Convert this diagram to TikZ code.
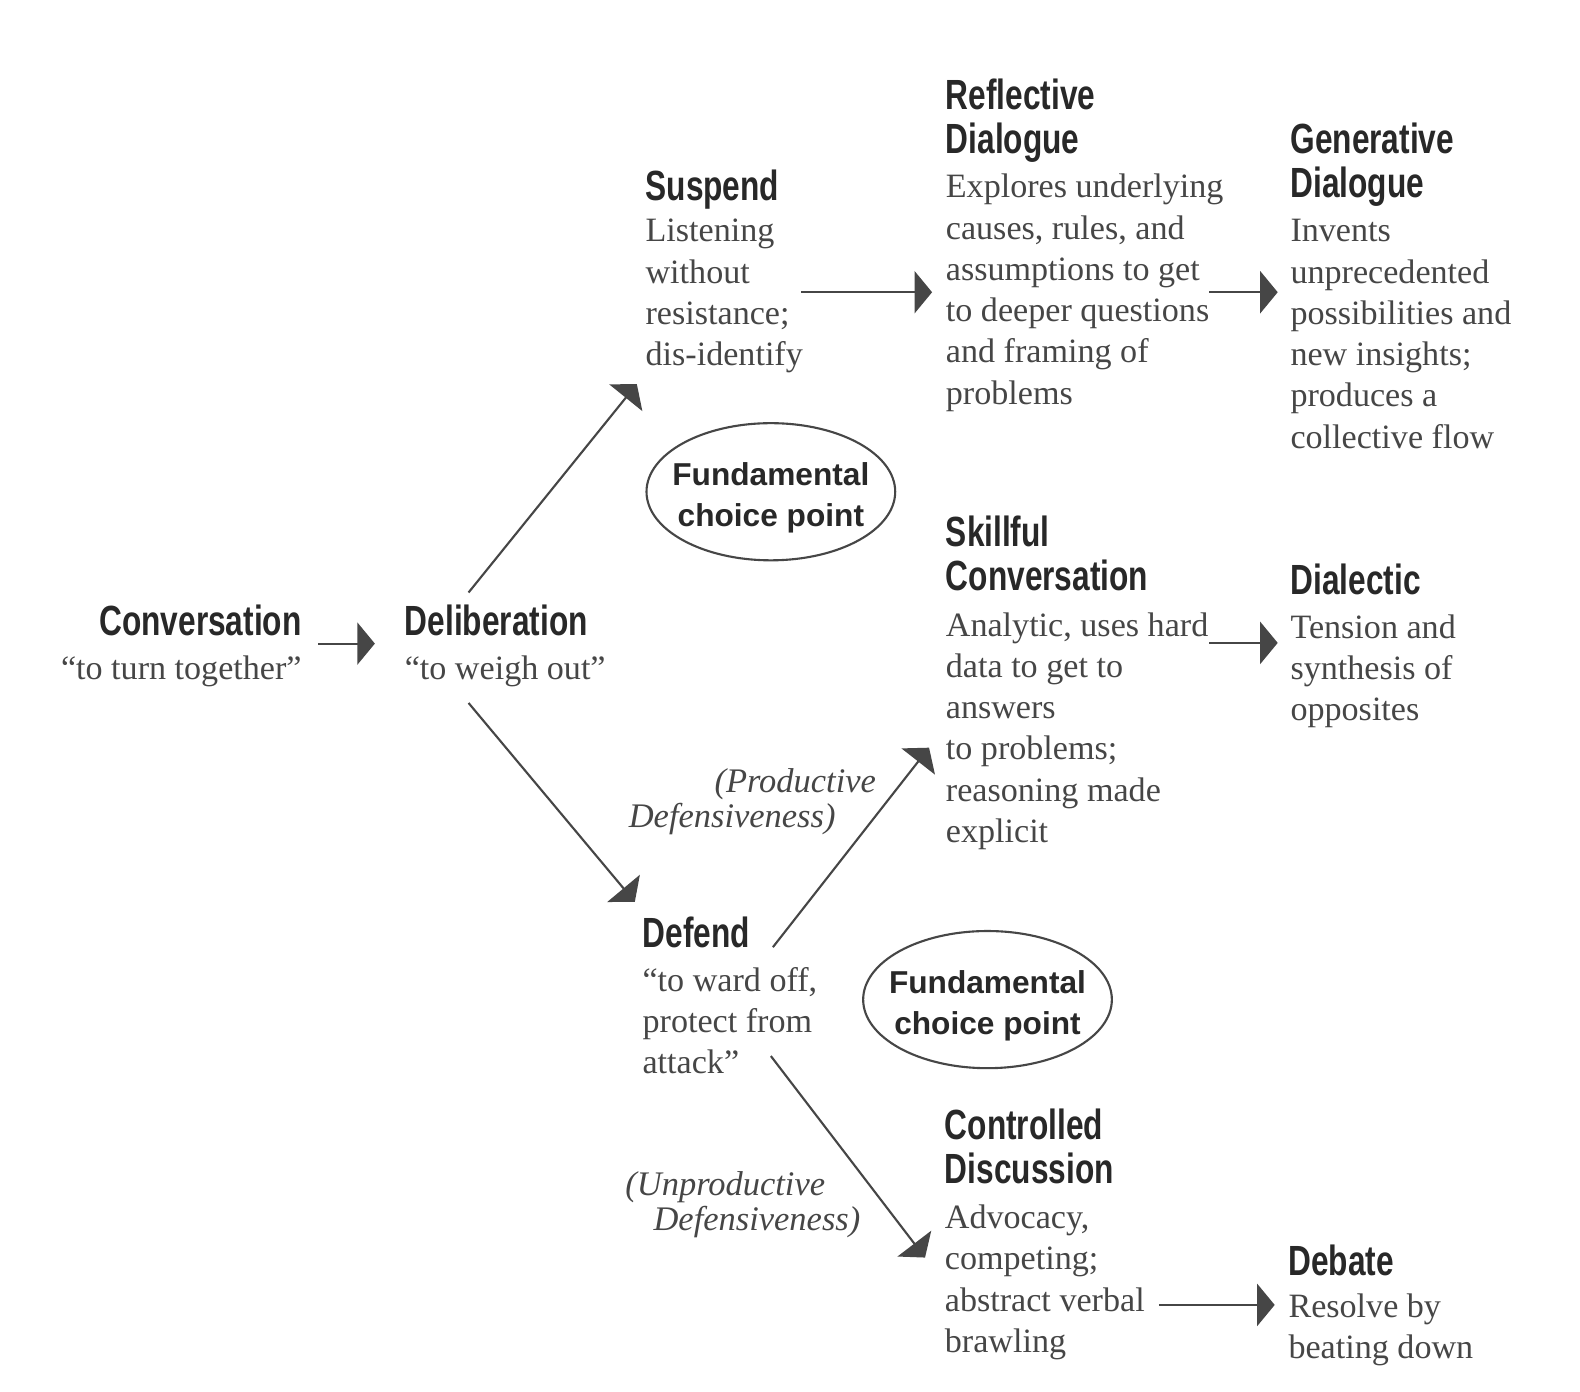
\documentclass[tikz,border=0pt]{standalone}
\usepackage{fontspec}
\usepackage{xcolor}
\usepackage{tikz}
\setmainfont{Liberation Serif}
\newfontfamily\headfont[FakeStretch=0.75]{Liberation Sans}
\newfontfamily\choicefont{Liberation Sans}
\definecolor{inkgray}{RGB}{70, 70, 70}
\definecolor{headgray}{RGB}{40, 40, 40}
\usetikzlibrary{shapes.geometric, arrows.meta, positioning, calc}
\newcommand{\choicetext}{\rule{0pt}{10pt}Fundamental\\choice point}

\begin{document}
\begin{tikzpicture}[
    x=0.0100765cm, y=-0.0100765cm,
    head/.style={anchor=north west, inner sep=0pt, align=left, text=headgray, font={\headfont\bfseries\fontsize{12}{12.47}\selectfont}, execute at begin node={\rule{0pt}{10pt}}},
    body/.style={anchor=north west, inner sep=0pt, align=left, text=inkgray, font={\fontsize{9.7}{11.75}\selectfont}, execute at begin node={\rule{0pt}{8pt}}},
    note/.style={inner sep=0pt, text=inkgray, font={\itshape\fontsize{9.8}{10}\selectfont}, execute at begin node={\rule{0pt}{8pt}}},
    choice/.style={ellipse, draw=inkgray, line width=0.6pt, inner xsep=-3pt, inner ysep=0pt, minimum width=70pt, minimum height=39pt, align=center, text=headgray, font={\choicefont\bfseries\fontsize{9}{11.75}\selectfont}},
    arrow/.style={-{Triangle[length=5pt, width=12pt]}, line width=0.6pt, draw=inkgray}
]
    \path[fill=white, use as bounding box] (0,0) rectangle (1568,1381);

    % Start of the conversation
    \node[head, anchor=north east, align=right] (conv_h) at (300, 595) {Conversation};
    \node[body, anchor=north east, align=right] (conv_b) at (300, 646) {“to turn together”};
    \node[head] (delib_h) at (401, 595) {Deliberation};
    \node[body] (delib_b) at (401, 646) {“to weigh out”};

    % Upper branch
    \node[head] (susp_h) at (640, 163) {Suspend};
    \node[body] (susp_b) at (640, 217) {Listening\\without\\resistance;\\dis-identify};
    \node[head] (refl_h) at (938, 78) {Reflective\\Dialogue};
    \node[body] (refl_b) at (938, 172) {Explores underlying\\causes, rules, and\\assumptions to get\\to deeper questions\\and framing of\\problems};
    \node[head] (gen_h) at (1280, 121) {Generative\\Dialogue};
    \node[body] (gen_b) at (1280, 217) {Invents\\unprecedented\\possibilities and\\new insights;\\produces a\\collective flow};
    \node[choice] (choice1) at (765, 488) {\choicetext};

    % Lower branch
    \node[head] (skill_h) at (938, 511) {Skillful\\Conversation};
    \node[body] (skill_b) at (938, 607) {Analytic, uses hard\\data to get to\\answers\\to problems;\\reasoning made\\explicit};
    \node[head] (dial_h) at (1280, 554) {Dialectic};
    \node[body] (dial_b) at (1280, 609) {Tension and\\synthesis of\\opposites};
    \node[head] (def_h) at (637, 905) {Defend};
    \node[body] (def_b) at (637, 959) {“to ward off,\\protect from\\attack”};
    \node[choice] (choice2) at (980, 992) {\choicetext};
    \node[head] (ctrl_h) at (937, 1100) {Controlled\\Discussion};
    \node[body] (ctrl_b) at (937, 1195) {Advocacy,\\competing;\\abstract verbal\\brawling};
    \node[head] (deb_h) at (1278, 1230) {Debate};
    \node[body] (deb_b) at (1278, 1283) {Resolve by\\beating down};

    \node[note, anchor=north east, align=right] (prod) at (870, 762) {(Productive\\Defensiveness)\hspace*{11.5pt}};
    \node[note, anchor=north west, align=left] (unprod) at (620, 1162) {(Unproductive\\\hspace*{8pt}Defensiveness)};

    % Arrows
    \draw[arrow] ($(conv_h.south east)+(16,7)$) -- ($(delib_h.south west)+(-29,7)$);
    \draw[arrow] ($(delib_h.north west)+(64,-7)$) -- ($(susp_b.south west)+(-8,10)$);
    \draw[arrow] ($(delib_b.south west)+(64,15)$) -- ($(def_h.north west)+(-7,-10)$);
    \draw[arrow] ($(susp_b.north west)+(155,73)$) -- ($(refl_b.north west)+(-13,118)$);
    \draw[arrow] ($(refl_b.north west)+(262,118)$) -- ($(gen_b.north west)+(-12,73)$);
    \draw[arrow] ($(def_h.north west)+(130,35)$) -- ($(skill_b.north west)+(-16,135)$);
    \draw[arrow] ($(skill_b.north west)+(262,31)$) -- ($(dial_b.north west)+(-12,29)$);
    \draw[arrow] ($(def_b.north west)+(128,89)$) -- ($(ctrl_b.north west)+(-19,53)$);
    \draw[arrow] ($(ctrl_b.north west)+(213,100)$) -- ($(deb_b.north west)+(-13,12)$);

\end{tikzpicture}
\end{document}
